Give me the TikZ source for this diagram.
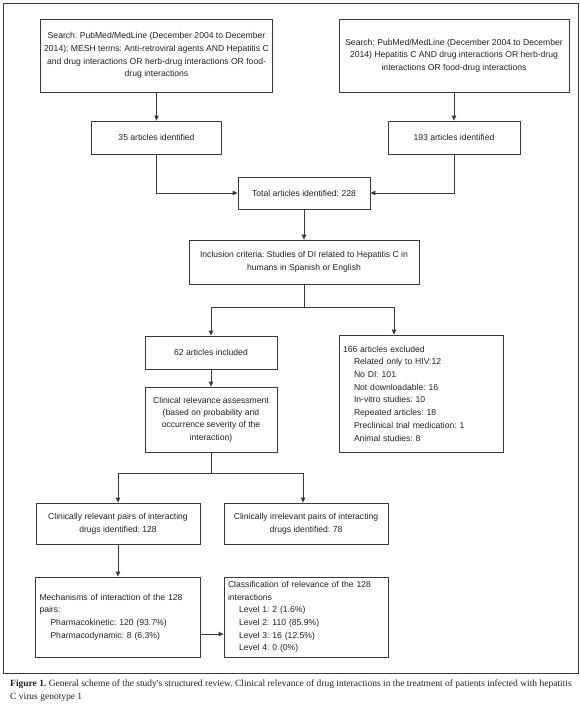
\documentclass[tikz,border=0pt]{standalone}
\usepackage{fontspec}
\setmainfont{Liberation Sans}
\newfontfamily\capfont{Liberation Serif}
\usetikzlibrary{arrows.meta}
\definecolor{linegray}{HTML}{3A3A3A}
\definecolor{txt}{HTML}{222222}
\newcommand{\boxfont}{\fontsize{8.6}{12.7}\selectfont}
\newcommand{\ind}{\hspace*{11pt}}
\frenchspacing
\begin{document}
\begin{tikzpicture}[x=1pt,y=-1pt,
  box/.style={draw=linegray, line width=0.8pt, inner sep=0pt, inner xsep=4pt,
              align=center, font=\boxfont\frenchspacing, text=txt,
              execute at begin node=\frenchspacing},
  lbox/.style={box, align=left},
  arr/.style={draw=linegray, line width=0.8pt, -{Triangle[width=4.5pt,length=5pt]}},
  ln/.style={draw=linegray, line width=0.8pt}]
\useasboundingbox (0,0) rectangle (580,713);
\fill[white] (0,0) rectangle (580,713);
\draw[linegray, line width=0.9pt] (3,3) rectangle (578,673);

\node[box, minimum width=231, minimum height=73] (b1) at (156.5,55.5)
 {Search: PubMed/MedLine (December 2004 to December\\2014); MESH terms: Anti-retroviral agents AND Hepatitis C\\and drug interactions OR herb-drug interactions OR food-\\drug interactions};
\node[box, minimum width=230, minimum height=73] (b2) at (454,55.5)
 {Search: PubMed/MedLine (December 2004 to December\\2014) Hepatitis C AND drug interactions OR herb-drug\\interactions OR food-drug interactions};
\node[box, minimum width=130, minimum height=33] (n35) at (156.5,137.5) {35 articles identified};
\node[box, minimum width=132, minimum height=33] (n193) at (454,137.5) {193 articles identified};
\node[box, minimum width=132, minimum height=32] (total) at (304,193) {Total articles identified: 228};
\node[box, minimum width=230, minimum height=44] (incl) at (304,262)
 {Inclusion criteria: Studies of DI related to Hepatitis C in\\humans in Spanish or English};
\node[box, minimum width=132, minimum height=33] (n62) at (211,352.5) {62 articles included};
\node[lbox, minimum width=164, minimum height=117, text width=156] (excl) at (421,393.5)
 {166 articles excluded\\\ind Related only to HIV:12\\\ind No DI: 101\\\ind Not downloadable: 16\\\ind In-vitro studies: 10\\\ind Repeated articles: 18\\\ind Preclinical trial medication: 1\\\ind Animal studies: 8};
\node[box, minimum width=132, minimum height=65, font=\fontsize{8.6}{12.3}\selectfont\frenchspacing] (clin) at (211,419.5)
 {Clinical relevance assessment\\(based on probability and\\occurrence severity of the\\interaction)};
\node[box, minimum width=164, minimum height=41] (rel) at (118,523.5)
 {Clinically relevant pairs of interacting\\drugs identified: 128};
\node[box, minimum width=164, minimum height=41] (irr) at (306,523.5)
 {Clinically irrelevant pairs of interacting\\drugs identified: 78};
\node[lbox, minimum width=165, minimum height=80, text width=157] (mech) at (118,617)
 {Mechanisms of interaction of the 128\\pairs:\\\ind Pharmacokinetic: 120 (93.7\%)\\\ind Pharmacodynamic: 8 (6.3\%)};
\node[lbox, minimum width=164, minimum height=80, text width=156] (cls) at (306,617)
 {Classification of relevance of the 128\\interactions\\\ind Level 1: 2 (1.6\%)\\\ind Level 2: 110 (85.9\%)\\\ind Level 3: 16 (12.5\%)\\\ind Level 4: 0 (0\%)};

\coordinate (s1) at (304,307);
\coordinate (s1l) at (211,307);
\coordinate (s1r) at (394,307);
\coordinate (s2) at (211,473);
\coordinate (s2l) at (118,473);
\coordinate (s2r) at (303,473);

\draw[arr] (b1.south) -- (n35.north);
\draw[arr] (b2.south) -- (n193.north);
\draw[arr] (n35.south) |- (total.west);
\draw[arr] (n193.south) |- (total.east);
\draw[arr] (total.south) -- (incl.north);
\draw[ln] (incl.south) -- (s1);
\draw[ln] (s1l) -- (s1r);
\draw[arr] (s1l) -- (n62.north);
\draw[arr] (s1r) -- (s1r |- excl.north);
\draw[arr] (n62.south) -- (clin.north);
\draw[ln] (clin.south) -- (s2);
\draw[ln] (s2l) -- (s2r);
\draw[arr] (s2l) -- (rel.north);
\draw[arr] (s2r) -- (s2r |- irr.north);
\draw[arr] (rel.south) -- (mech.north);
\draw[arr] ([yshift=-17pt]mech.east) -- ([yshift=-17pt]cls.west);

\node[anchor=north west, inner sep=0pt, align=left, text=txt,
      font=\capfont\fontsize{9.5}{12.5}\selectfont\frenchspacing] (cap) at (10,680)
 {\textbf{Figure 1.} General scheme of the study's structured review. Clinical relevance of drug interactions in the treatment of patients infected with hepatitis\\C virus genotype 1};
\end{tikzpicture}
\end{document}
